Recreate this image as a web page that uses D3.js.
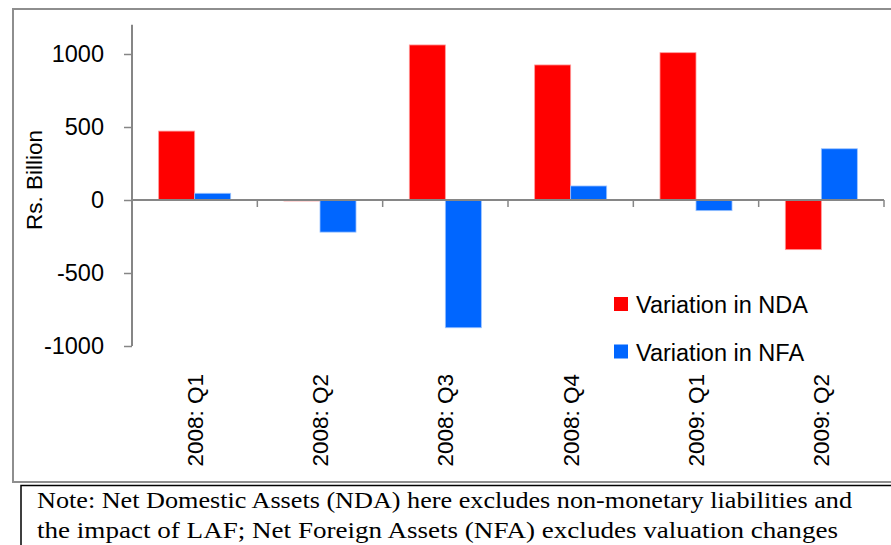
<!DOCTYPE html>
<html>
<head>
<meta charset="utf-8">
<script src="https://cdn.jsdelivr.net/npm/d3@7"></script>
<style>
  body { margin: 0; background: #fff; }
  svg { display: block; font-family: "Liberation Sans", Arial, sans-serif; }
</style>
</head>
<body>
<svg id="chart" width="891" height="545"></svg>
<script>
// data
const quarters = ['2008: Q1', '2008: Q2', '2008: Q3', '2008: Q4', '2009: Q1', '2009: Q2']
const ndaValues = [472, -5, 1062, 925, 1009, -340]
const nfaValues = [46, -220, -875, 96, -73, 351]
const seriesNames = ['Variation in NDA', 'Variation in NFA']
const seriesColors = ['#ff0000', '#0066ff']
const yTicks = [-1000, -500, 0, 500, 1000]
const noteLines = [
    'Note: Net Domestic Assets (NDA) here excludes non-monetary liabilities and',
    'the impact of LAF; Net Foreign Assets (NFA) excludes valuation changes'
]

const svg = d3.select('#chart')
const axisColor = '#868686'

// outer frame and note box
svg.append('rect')
    .attr('x', 13).attr('y', 9)
    .attr('width', 900).attr('height', 473)
    .attr('fill', 'none')
    .attr('stroke', '#8e8e8e')
    .attr('stroke-width', 2)

svg.append('rect')
    .attr('x', 21).attr('y', 485.5)
    .attr('width', 900).attr('height', 100)
    .attr('fill', 'none')
    .attr('stroke', '#000')
    .attr('stroke-width', 1.5)

// scales
const x = d3.scaleBand()
    .domain(quarters)
    .range([132, 884])
    .padding(0)

const x1 = d3.scaleBand()
    .domain(seriesNames)
    .range([0, x.bandwidth()])
    .paddingInner(0)
    .paddingOuter(0.74)

const y = d3.scaleLinear()
    .domain([-1000, 1200])
    .range([346, 24.8])

// rows for the bars
const rows = quarters.map((q, i) => ({
    q: q,
    vals: [
        {name: seriesNames[0], v: ndaValues[i], color: seriesColors[0], edge: '#ff9a9a'},
        {name: seriesNames[1], v: nfaValues[i], color: seriesColors[1], edge: '#9cc4ff'}
    ]
}))

svg.append('g')
    .selectAll('g')
    .data(rows)
    .join('g')
    .attr('transform', d => 'translate(' + x(d.q) + ',0)')
    .selectAll('rect')
    .data(d => d.vals)
    .join('rect')
    .attr('x', d => x1(d.name))
    .attr('width', x1.bandwidth())
    .attr('y', d => y(Math.max(0, d.v)))
    .attr('height', d => Math.max(1, Math.abs(y(d.v) - y(0))))
    .attr('fill', d => d.color)
    .attr('stroke', d => d.edge)
    .attr('stroke-width', 0.8)

// y axis
const yAxis = svg.append('g')
    .attr('transform', 'translate(132,0)')
    .call(d3.axisLeft(y).tickValues(yTicks).tickFormat(d => String(d))
        .tickSize(8).tickPadding(20).tickSizeOuter(0))
yAxis.select('.domain')
    .attr('d', 'M0,' + y(-1000) + 'V' + y(1200))
    .attr('stroke', axisColor).attr('stroke-width', 2)
yAxis.selectAll('.tick line').attr('stroke', axisColor).attr('stroke-width', 1.5)
yAxis.selectAll('.tick text')
    .attr('font-size', '23.5px')
    .attr('font-family', '"Liberation Sans", Arial, sans-serif')
    .attr('fill', '#000')

// x axis line at zero with ticks on the category edges
const xAxis = svg.append('g')
xAxis.append('line')
    .attr('x1', x.range()[0]).attr('x2', x.range()[1])
    .attr('y1', y(0)).attr('y2', y(0))
    .attr('stroke', axisColor).attr('stroke-width', 2)
xAxis.selectAll('.edge')
    .data(quarters)
    .join('line')
    .attr('class', 'edge')
    .attr('x1', d => x(d) + x.bandwidth()).attr('x2', d => x(d) + x.bandwidth())
    .attr('y1', y(0)).attr('y2', y(0) + 7)
    .attr('stroke', axisColor).attr('stroke-width', 1.5)

// category labels, rotated
svg.append('g')
    .selectAll('text')
    .data(quarters)
    .join('text')
    .attr('transform', d => 'translate(' + (x(d) + x.bandwidth() / 2) + ',374) rotate(-90)')
    .attr('text-anchor', 'end')
    .attr('dy', '0.35em')
    .attr('font-size', '22.5px')
    .text(d => d)

// y title
svg.append('text')
    .attr('transform', 'translate(42,180) rotate(-90)')
    .attr('text-anchor', 'middle')
    .attr('font-size', '22.5px')
    .text('Rs. Billion')

// legend
const legend = svg.append('g')
    .selectAll('g')
    .data(seriesNames)
    .join('g')
    .attr('transform', (d, i) => 'translate(614,' + (297 + i * 47.5) + ')')
legend.append('rect')
    .attr('width', 14).attr('height', 14)
    .attr('fill', (d, i) => seriesColors[i])
legend.append('text')
    .attr('x', 22).attr('y', 16)
    .attr('font-size', '23.5px')
    .text(d => d)

// note, stretched to the same width as the original
const noteWidths = [815, 801]
svg.append('g')
    .selectAll('text')
    .data(noteLines)
    .join('text')
    .attr('x', 37)
    .attr('y', (d, i) => 508 + i * 30)
    .attr('font-family', '"Liberation Serif", "Times New Roman", serif')
    .attr('font-size', '23px')
    .attr('textLength', (d, i) => noteWidths[i])
    .attr('lengthAdjust', 'spacingAndGlyphs')
    .text(d => d)
</script>
</body>
</html>
